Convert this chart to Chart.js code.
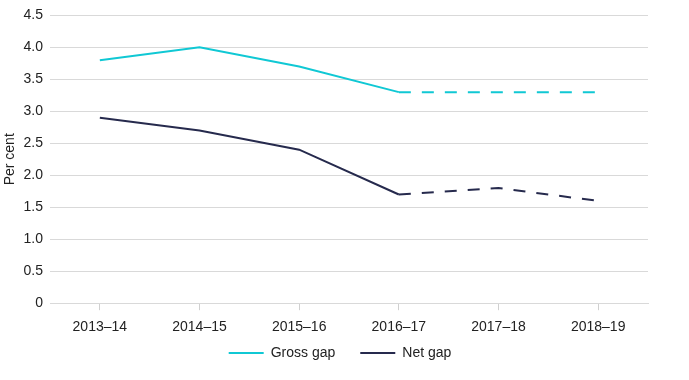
<!DOCTYPE html>
<html>
<head>
<meta charset="utf-8">
<script src="https://cdn.jsdelivr.net/npm/chart.js@4/dist/chart.umd.min.js"></script>
<style>
html,body{margin:0;padding:0;background:#fff;}
#wrap{width:689px;height:380px;position:relative;}
</style>
</head>
<body>
<div id="wrap"><canvas id="c" width="689" height="380"></canvas></div>
<script>
const categories = ['2013\u201314','2014\u201315','2015\u201316','2016\u201317','2017\u201318','2018\u201319'];
const grossGap = [3.8, 4.0, 3.7, 3.3, 3.3, 3.3];
const netGap = [2.9, 2.7, 2.4, 1.7, 1.8, 1.6];
const projectedFrom = 3;

const FONT = "'Liberation Sans', Arial, Helvetica, sans-serif";
const dashSeg = { borderDash: ctx => ctx.p0DataIndex >= projectedFrom ? [12, 11] : undefined };

const legendPlace = {
  id: 'legendPlace',
  afterLayout(chart) {
    const lg = chart.legend;
    if (lg) {
      lg.left = 0; lg.right = 680; lg.width = 680;
      lg.top -= 24; lg.bottom = 380; lg.height = lg.bottom - lg.top;
    }
  }
};

new Chart(document.getElementById('c'), {
  type: 'line',
  data: {
    labels: categories,
    datasets: [
      { label: 'Gross gap', data: grossGap, borderColor: '#10C8D4', backgroundColor: '#10C8D4',
        borderWidth: 2, pointRadius: 0, tension: 0, segment: dashSeg },
      { label: 'Net gap', data: netGap, borderColor: '#262A4D', backgroundColor: '#262A4D',
        borderWidth: 2, pointRadius: 0, tension: 0, segment: dashSeg }
    ]
  },
  plugins: [legendPlace],
  options: {
    responsive: false,
    animation: false,
    layout: { padding: { top: 10, right: 41, left: 0, bottom: 0 } },
    plugins: {
      legend: {
        position: 'bottom',
        maxHeight: 35,
        labels: {
          font: { family: FONT, size: 14 }, color: '#222', boxWidth: 35, boxHeight: 2, padding: 25,
          generateLabels: chart => Chart.defaults.plugins.legend.labels.generateLabels(chart)
            .map(l => Object.assign(l, { lineWidth: 0 }))
        }
      },
      tooltip: { enabled: false }
    },
    scales: {
      x: {
        offset: true,
        grid: { drawOnChartArea: false, drawTicks: true, tickLength: 7, color: '#d0d0d0', offset: false },
        border: { display: true, color: '#d9d9d9' },
        ticks: { font: { family: FONT, size: 14 }, color: '#222', padding: 9, maxRotation: 0 }
      },
      y: {
        min: 0, max: 4.5,
        afterFit: s => { s.width = 50; },
        ticks: { stepSize: 0.5, font: { family: FONT, size: 14 }, color: '#222', padding: 7,
          callback: v => v === 0 ? '0' : v.toFixed(1) },
        grid: { color: '#d9d9d9', drawTicks: false, lineWidth: 1 },
        border: { display: false },
        title: { display: true, text: 'Per cent', font: { family: FONT, size: 14 }, color: '#222', padding: 2 }
      }
    }
  }
});
</script>
</body>
</html>
